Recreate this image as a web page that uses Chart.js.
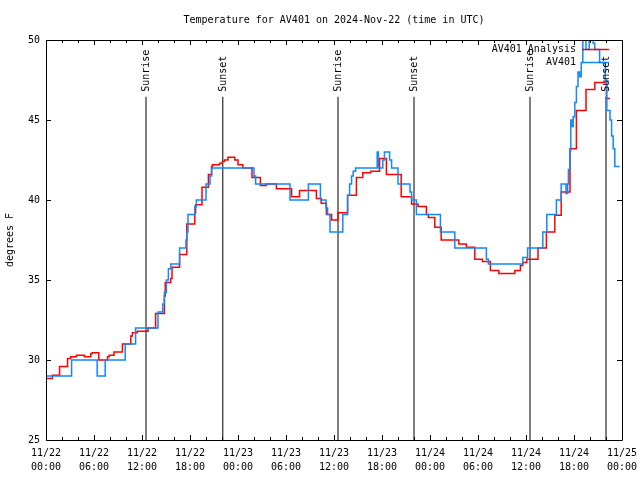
<!DOCTYPE html>
<html>
<head>
<meta charset="utf-8">
<script src="https://cdn.jsdelivr.net/npm/chart.js@4/dist/chart.umd.min.js"></script>
<style>
html,body{margin:0;padding:0;background:#fff;}
canvas{display:block;}
</style>
</head>
<body>
<canvas id="c" width="640" height="480"></canvas>
<script>
// ---- data (hours since 2024-11-22 00:00 UTC) ----
const titleText = 'Temperature for AV401 on 2024-Nov-22 (time in UTC)';
const yLabel = 'degrees F';
const xTickHours = [0, 6, 12, 18, 24, 30, 36, 42, 48, 54, 60, 66, 72];
const xTickDates = ['11/22','11/22','11/22','11/22','11/23','11/23','11/23','11/23','11/24','11/24','11/24','11/24','11/25'];
const xTickTimes = ['00:00','06:00','12:00','18:00','00:00','06:00','12:00','18:00','00:00','06:00','12:00','18:00','00:00'];
const yTicks = [25, 30, 35, 40, 45, 50];

const obsName = 'AV401';
const obsHours = [0, 3.2, 6.4, 7.4, 9.9, 11.2, 14.0, 14.6, 14.8, 15.05, 15.3, 15.6, 16.7, 17.5, 17.6, 17.75, 18.6, 18.8, 20.0, 20.5, 20.7, 26.0, 26.2, 30.5, 32.8, 34.3, 35.0, 35.2, 35.5, 37.1, 37.7, 37.95, 38.2, 38.4, 38.7, 41.4, 41.55, 42.1, 42.3, 42.95, 43.2, 44.0, 45.5, 45.7, 46.3, 49.3, 51.1, 55.05, 55.3, 59.6, 60.2, 62.1, 62.6, 63.8, 64.4, 65.0, 65.2, 65.3, 65.5, 65.6, 65.7, 65.9, 66.1, 66.3, 66.5, 66.7, 66.9, 67.1, 67.5, 67.9, 68.4, 68.6, 69.2, 69.9, 70.1, 70.5, 70.7, 70.9, 71.1, 71.7];
const obsTemps = [29, 30, 29, 30, 31, 32, 33, 33.5, 34.2, 35, 35.7, 36, 37, 37.5, 38, 39.1, 39.6, 40, 41, 41.5, 42, 41.5, 41, 40, 41, 40, 39.5, 39.1, 38, 39.1, 40.3, 41, 41.5, 41.8, 42, 43, 42, 42.5, 43, 42.5, 42, 41, 40.5, 40, 39.1, 38, 37, 36.3, 36, 36.4, 37, 38, 39.1, 40, 41, 40.4, 41, 41.9, 43.1, 45, 44.6, 45.2, 46.1, 47.1, 48, 47.7, 48.6, 51, 49.4, 51, 49.8, 49.4, 48.6, 47.5, 45.6, 45, 44, 43.2, 42.1, 42.1];

const anaName = 'AV401 Analysis';
const anaHours = [0, 0.8, 1.7, 2.7, 3.1, 3.8, 4.8, 5.6, 5.8, 6.6, 7.7, 7.9, 8.5, 9.55, 10.6, 10.8, 11.4, 12.75, 13.7, 14.8, 14.9, 15.6, 15.75, 16.7, 17.6, 18.6, 18.7, 19.5, 20.3, 20.7, 20.8, 21.7, 22.05, 22.3, 22.75, 23.6, 24.0, 24.6, 25.75, 26.8, 27.55, 28.8, 30.7, 31.7, 33.8, 34.4, 35.05, 35.7, 36.5, 37.7, 38.8, 39.6, 40.6, 41.7, 42.55, 44.4, 45.7, 46.5, 47.55, 47.8, 48.6, 49.4, 51.6, 52.55, 53.6, 54.55, 55.55, 56.6, 58.6, 59.3, 59.6, 60.1, 61.5, 62.55, 63.6, 64.4, 65.5, 66.3, 67.5, 68.6, 70.05, 70.5];
const anaTemps = [28.85, 29.05, 29.6, 30.1, 30.2, 30.3, 30.2, 30.4, 30.45, 30.0, 30.2, 30.3, 30.5, 31.0, 31.5, 31.7, 31.8, 32.0, 32.9, 34.0, 34.85, 35.1, 35.8, 36.6, 38.5, 39.2, 39.7, 40.8, 41.6, 42.1, 42.2, 42.3, 42.4, 42.5, 42.67, 42.5, 42.2, 42.0, 41.4, 40.9, 41.0, 40.7, 40.2, 40.6, 40.1, 39.8, 39.1, 38.75, 39.2, 40.3, 41.4, 41.7, 41.8, 42.6, 41.6, 40.2, 39.75, 39.6, 39.1, 38.9, 38.3, 37.5, 37.25, 37.05, 36.3, 36.15, 35.6, 35.4, 35.6, 35.9, 36.1, 36.3, 37.0, 38.0, 39.05, 40.5, 43.2, 45.6, 46.9, 47.35, 46.35, 46.35];

const sunriseHours = [12.5, 36.5, 60.5];
const sunsetHours = [22.1, 46.0, 70.0];
const eventLineTop = 46.45;

// ---- build ----
const FONT = {family: "'DejaVu Sans Mono', monospace", size: 10, weight: 'normal', lineHeight: 1.4};
const RED = '#ff0000';
const BLUE = '#1088ff';

function pts(hs, ts) { return hs.map((h, i) => ({x: h, y: ts[i]})); }

const datasets = [
  {label: obsName, data: pts(obsHours, obsTemps), borderColor: BLUE, borderWidth: 1.5, pointRadius: 0, stepped: 'before', fill: false, order: 0},
  {label: anaName, data: pts(anaHours, anaTemps), borderColor: RED, borderWidth: 1.5, pointRadius: 0, stepped: 'before', fill: false, order: 1}
];
const events = [];
sunriseHours.forEach(h => events.push({h, text: 'Sunrise'}));
sunsetHours.forEach(h => events.push({h, text: 'Sunset'}));
events.forEach(ev => datasets.push({
  label: ev.text, data: [{x: ev.h, y: 25}, {x: ev.h, y: eventLineTop}],
  borderColor: '#000', borderWidth: 1, pointRadius: 0, fill: false, order: 2
}));

const framePlugin = {
  id: 'frame',
  afterDatasetsDraw(chart) {
    const {ctx, chartArea: a, scales: {x, y}} = chart;
    ctx.save();
    ctx.strokeStyle = '#000';
    ctx.lineWidth = 1;
    ctx.beginPath();
    ctx.rect(Math.round(a.left) + 0.5, Math.round(a.top) + 0.5, Math.round(a.right - a.left), Math.round(a.bottom - a.top));
    ctx.stroke();
    // ticks
    ctx.beginPath();
    const xt = x.ticks.map(t => t.value);
    xt.forEach((v, i) => {
      const px = Math.round(x.getPixelForValue(v)) + 0.5;
      ctx.moveTo(px, a.bottom); ctx.lineTo(px, a.bottom - 5);
      ctx.moveTo(px, a.top); ctx.lineTo(px, a.top + 5);
      if (i < xt.length - 1) {
        const step = (xt[i + 1] - v) / 3;
        for (let k = 1; k < 3; k++) {
          const mx = Math.round(x.getPixelForValue(v + k * step)) + 0.5;
          ctx.moveTo(mx, a.bottom); ctx.lineTo(mx, a.bottom - 3);
          ctx.moveTo(mx, a.top); ctx.lineTo(mx, a.top + 3);
        }
      }
    });
    y.ticks.forEach(t => {
      const py = Math.round(y.getPixelForValue(t.value)) + 0.5;
      ctx.moveTo(a.left, py); ctx.lineTo(a.left + 5, py);
      ctx.moveTo(a.right, py); ctx.lineTo(a.right - 5, py);
    });
    ctx.stroke();
    // event labels
    ctx.fillStyle = '#000';
    ctx.font = "10px 'DejaVu Sans Mono', monospace";
    ctx.textAlign = 'left';
    ctx.textBaseline = 'middle';
    events.forEach(ev => {
      const px = x.getPixelForValue(ev.h);
      const py = y.getPixelForValue(eventLineTop) - 5;
      ctx.save();
      ctx.translate(px + 0.5, py);
      ctx.rotate(-Math.PI / 2);
      ctx.fillText(ev.text, 0, 0);
      ctx.restore();
    });
    // legend
    const entries = [[anaName, RED], [obsName, BLUE]];
    entries.forEach((e, i) => {
      const ly = a.top + 9.5 + i * 13;
      ctx.textAlign = 'right';
      ctx.fillStyle = '#000';
      ctx.fillText(e[0], a.right - 46, ly);
      ctx.strokeStyle = e[1];
      ctx.lineWidth = 1.5;
      ctx.beginPath();
      ctx.moveTo(a.right - 40, ly); ctx.lineTo(a.right - 13, ly);
      ctx.stroke();
    });
    ctx.restore();
  }
};

new Chart(document.getElementById('c'), {
  type: 'line',
  data: {datasets},
  options: {
    responsive: false,
    animation: false,
    devicePixelRatio: 1,
    layout: {padding: {left: 0, right: 18, top: 0, bottom: 0}},
    plugins: {
      legend: {display: false},
      tooltip: {enabled: false},
      title: {display: true, fullSize: false, text: titleText, color: '#000', font: {family: FONT.family, size: 10, weight: 'normal', lineHeight: 1.2}, padding: {top: 14, bottom: 14}}
    },
    scales: {
      x: {
        type: 'linear', min: 0, max: 72,
        grid: {display: false, drawTicks: false},
        border: {display: false},
        ticks: {
          stepSize: 6, autoSkip: false, maxRotation: 0, minRotation: 0, padding: 6, color: '#000', font: FONT,
          callback: (v) => { const i = xTickHours.indexOf(v); return i >= 0 ? [xTickDates[i], xTickTimes[i]] : ''; }
        },
        afterFit: (s) => { s.height = 40; s.paddingLeft = 0; s.paddingRight = 0; }
      },
      y: {
        type: 'linear', min: yTicks[0], max: yTicks[yTicks.length - 1],
        grid: {display: false, drawTicks: false},
        border: {display: false},
        ticks: {stepSize: 5, padding: 6, color: '#000', font: FONT,
          callback: (v) => yTicks.includes(v) ? String(v) : ''},
        title: {display: true, text: yLabel, color: '#000', font: {family: FONT.family, size: 10, lineHeight: 1.2}, padding: {top: 4, bottom: 0}},
        afterFit: (s) => { s.width = 46; s.paddingTop = 0; s.paddingBottom = 0; }
      }
    }
  },
  plugins: [framePlugin]
});
</script>
</body>
</html>
